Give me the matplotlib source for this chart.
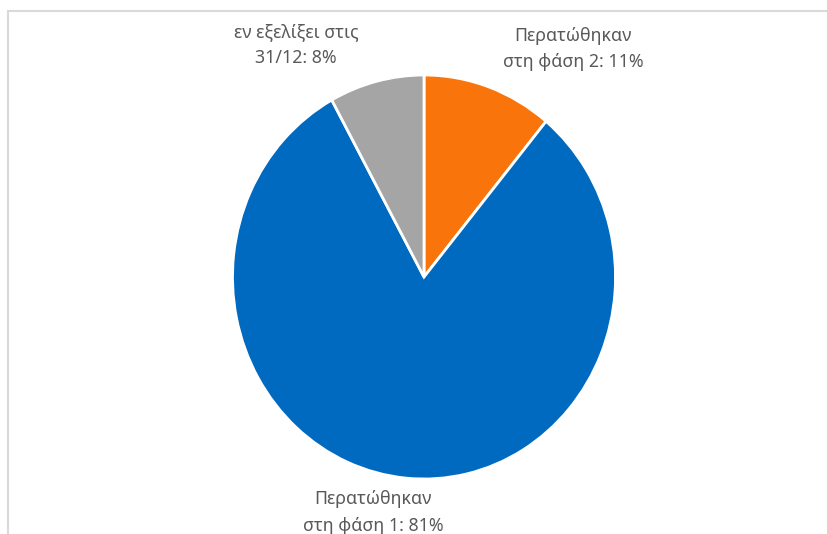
import matplotlib.pyplot as plt
from matplotlib.patches import Rectangle

plt.rcParams['font.family'] = ['Noto Sans', 'DejaVu Sans']

# Πρόοδος έργων στο τέλος του έτους
labels = ['Περατώθηκαν\nστη φάση 2', 'Περατώθηκαν\nστη φάση 1', 'εν εξελίξει στις\n31/12']
shares = [11, 81, 8]
colors = ['#F9740A', '#006AC1', '#A5A5A5']

W, H = 827, 534
fig = plt.figure(figsize=(W / 100, H / 100), dpi=100)

# λεπτό γκρι πλαίσιο γύρω από το γράφημα
fig.patches.append(Rectangle((8 / W, -0.1), 1.1, (H - 11) / H + 0.1,
                             transform=fig.transFigure, fill=False,
                             edgecolor='#D9D9D9', linewidth=1.5))

# κέντρο πίτας και ακτίνες σε pixel (ελαφρώς ελλειπτική)
cx, cy, rx, ry = 424, 277, 191.5, 202
ax = fig.add_axes([(cx - 1.25 * rx) / W, (H - cy - 1.25 * ry) / H,
                   2.5 * rx / W, 2.5 * ry / H])

wedges, _ = ax.pie(shares, colors=colors, startangle=90, counterclock=False,
                   wedgeprops=dict(edgecolor='white', linewidth=2))
ax.set_aspect('auto')
ax.set_xlim(-1.25, 1.25)
ax.set_ylim(-1.25, 1.25)
ax.axis('off')

label_pos = [(0.778, 1.13), (-0.266, -1.165), (-0.668, 1.148)]
for lab, val, (x, y) in zip(labels, shares, label_pos):
    ax.text(x, y, f'{lab}: {val}%', ha='center', va='center',
            fontsize=12.8, color='#595959', linespacing=1.6, clip_on=False)

fig.savefig('out.png', dpi=100)
